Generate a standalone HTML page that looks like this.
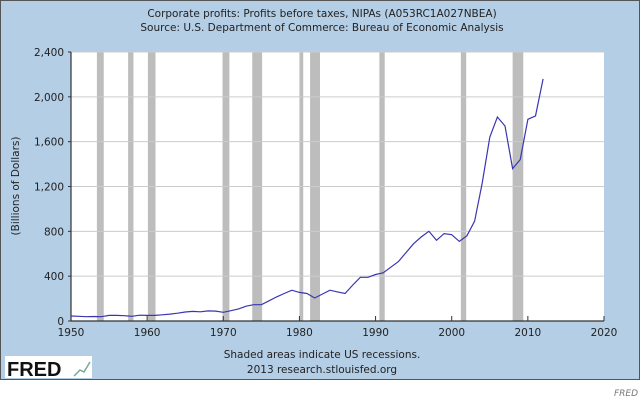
<!DOCTYPE html>
<html><head><meta charset="utf-8"><style>
body{margin:0;width:640px;height:401px;background:#fff;overflow:hidden;font-family:"DejaVu Sans","Liberation Sans",sans-serif}
</style></head><body>
<svg width="640" height="401" xmlns="http://www.w3.org/2000/svg" font-family="DejaVu Sans, Liberation Sans, sans-serif">
<rect x="0.5" y="0.5" width="639" height="379" fill="#b4cee6" stroke="#555"/>
<text x="322" y="17" font-size="10.5" text-anchor="middle" fill="#222">Corporate profits: Profits before taxes, NIPAs (A053RC1A027NBEA)</text>
<text x="322" y="31" font-size="10.5" text-anchor="middle" fill="#222">Source: U.S. Department of Commerce: Bureau of Economic Analysis</text>
<rect x="71" y="52" width="533" height="269" fill="#fff"/>
<g id="rec"></g><g id="grid"></g><g id="axes"></g>
<path id="line" fill="none" stroke="#3a36b0" stroke-width="1.2"/>
<text transform="translate(19,186) rotate(-90)" font-size="10.5" text-anchor="middle" fill="#222">(Billions of Dollars)</text>
<text x="322" y="358" font-size="10.5" text-anchor="middle" fill="#222">Shaded areas indicate US recessions.</text>
<text x="322" y="373" font-size="10.5" text-anchor="middle" fill="#222">2013 research.stlouisfed.org</text>
<rect x="5" y="356" width="87" height="22" fill="#fff"/>
<text x="7" y="376" font-size="20" font-weight="bold" fill="#111" font-family="Liberation Sans, sans-serif">FRED</text>
<path d="M74 376 L80 370 L84 372 L90 362" stroke="#7a9" fill="none" stroke-width="1.5"/>
<text x="638" y="396" font-size="9" font-style="italic" text-anchor="end" fill="#777">FRED</text>
</svg>
<script>
const years=[1950,1951,1952,1953,1954,1955,1956,1957,1958,1959,1960,1961,1962,1963,1964,1965,1966,1967,1968,1969,1970,1971,1972,1973,1974,1975,1976,1977,1978,1979,1980,1981,1982,1983,1984,1985,1986,1987,1988,1989,1990,1991,1992,1993,1994,1995,1996,1997,1998,1999,2000,2001,2002,2003,2004,2005,2006,2007,2008,2009,2010,2011,2012];
const profits=[45,42,38,40,38,50,50,47,42,52,50,50,55,62,70,80,86,82,90,88,78,92,108,132,145,145,180,215,245,275,255,245,205,240,275,260,245,320,390,390,415,430,480,530,610,690,750,800,720,780,770,710,760,890,1230,1640,1820,1740,1360,1440,1800,1830,2160];
const recStart=[1953.4,1957.5,1960.1,1969.9,1973.8,1980.0,1981.4,1990.5,2001.2,2008.0];
const recEnd=[1954.3,1958.2,1961.1,1970.8,1975.1,1980.5,1982.7,1991.2,2001.9,2009.4];
const yTicks=[0,400,800,1200,1600,2000,2400];
const yTickLabels=["0","400","800","1,200","1,600","2,000","2,400"];
const xTicks=[1950,1960,1970,1980,1990,2000,2010,2020];
const NS="http://www.w3.org/2000/svg";
const X=v=>71+(v-1950)/70*533, Y=v=>321-v/2400*269;
function mk(p,t,a){const e=document.createElementNS(NS,t);for(const k in a)e.setAttribute(k,a[k]);document.getElementById(p).appendChild(e);return e;}
recStart.forEach((s,i)=>{const r=mk('rec','rect',{x:X(s),y:52,width:X(recEnd[i])-X(s),height:269,fill:'#bdbdbd'});

});
yTicks.forEach((v,i)=>{const l=mk('grid','line',{x1:71,x2:604,y1:Y(v),y2:Y(v),stroke:'#ccc','stroke-width':1});


const t=mk('axes','text',{x:64,y:Y(v)+4,'font-size':10.5,'text-anchor':'end',fill:'#222'});t.textContent=yTickLabels[i];


mk('axes','line',{x1:68,x2:71,y1:Y(v),y2:Y(v),stroke:'#333'});});
xTicks.forEach(v=>{mk('axes','line',{x1:X(v),x2:X(v),y1:316,y2:321,stroke:'#333'});
const t=mk('axes','text',{x:X(v),y:336,'font-size':10.5,'text-anchor':'middle',fill:'#222'});t.textContent=v;

});
mk('axes','line',{x1:71,x2:604,y1:321,y2:321,stroke:'#333','stroke-width':1.2});
mk('axes','line',{x1:71,x2:71,y1:52,y2:321,stroke:'#333','stroke-width':1.2});
document.getElementById('line').setAttribute('d',years.map((y,i)=>(i?'L':'M')+X(y).toFixed(1)+' '+Y(profits[i]).toFixed(1)).join(' '));
</script>
</body></html>
